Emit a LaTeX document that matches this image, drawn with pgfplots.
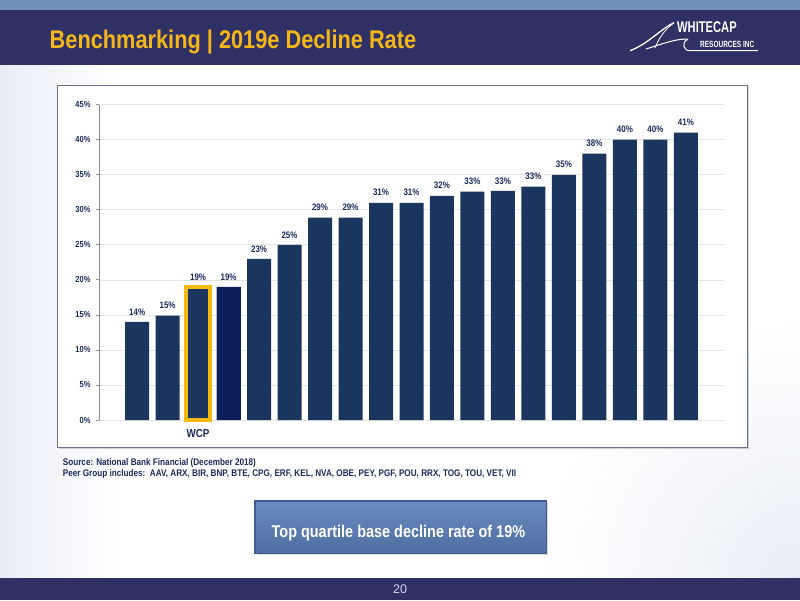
\documentclass[border=0pt]{standalone}
\usepackage{fontspec}
\setmainfont{Liberation Sans}
\newfontfamily\narrow{Liberation Sans}[FakeStretch=0.85]
\newfontfamily\logofont{Liberation Sans}[FakeStretch=0.72]
\usepackage{pgfplots}
\usepackage{pgfplotstable}
\pgfplotsset{compat=1.18}
\usetikzlibrary{shadows}
\definecolor{band}{HTML}{2F3063}
\definecolor{stripe}{HTML}{7191BA}
\definecolor{titlegold}{HTML}{F4B71A}
\definecolor{barblue}{HTML}{1B365E}
\definecolor{bardark}{HTML}{0C1F5C}
\definecolor{wcpgold}{HTML}{F5B90F}
\definecolor{navy}{HTML}{1C2B5C}
\definecolor{gridgray}{HTML}{E4E4E4}
\definecolor{axisgray}{HTML}{8C8C8C}
\definecolor{frame}{HTML}{6C6F91}
\definecolor{boxtop}{HTML}{6A8BBF}
\definecolor{boxbot}{HTML}{4E6EA2}
\definecolor{boxedge}{HTML}{3F5C8E}
\definecolor{footertext}{HTML}{D4D8F2}
\definecolor{bgtint}{HTML}{E8EDF5}

\pgfplotstableread{
x y
0 14.0
1 14.9
2 19.0
3 19.0
4 23.0
5 25.0
6 28.9
7 28.9
8 31.0
9 31.0
10 32.0
11 32.6
12 32.7
13 33.3
14 35.0
15 38.0
16 40.0
17 40.0
18 41.0
}\decline

\begin{document}
\begin{tikzpicture}[x=1pt,y=1pt]
\useasboundingbox (0,0) rectangle (800,600);
\fill[white] (0,0) rectangle (800,600);
% faint background tints
\shade[left color=bgtint, right color=white] (0,22) rectangle (120,534.5);
\begin{scope}
  \clip (0,22) rectangle (800,534.5);
  \shade[inner color=bgtint, outer color=white] (800,22) circle (260);
\end{scope}
% header
\fill[stripe] (0,590) rectangle (800,600);
\fill[band] (0,534.5) rectangle (800,590);
\node[anchor=base west, inner sep=0pt, text=titlegold,
      font=\narrow\bfseries\fontsize{25.6}{28}\selectfont]
  at (49.5,551.7) {Benchmarking | 2019e Decline Rate};
% logo
\node[anchor=base west, inner sep=0pt, text=white,
      font=\logofont\bfseries\fontsize{15.5}{17}\selectfont]
  at (677,567) {WHITECAP};
\node[anchor=base west, inner sep=0pt, text=white,
      font=\logofont\bfseries\fontsize{9}{10}\selectfont]
  at (700,552.7) {RESOURCES INC};
\draw[white, line width=1.3pt] (630,549.3) .. controls (648,556) and (662,572) .. (674,577.3);
\draw[white, line width=0.8pt] (674,577.3) .. controls (664,570) and (658,560) .. (655,552);
\draw[white, line width=1pt] (646,551) .. controls (662,556) and (678,562) .. (688,560.7);
\draw[white, line width=1pt] (688,560.7) .. controls (681,558) and (683,549.3) .. (690,549.3) -- (758,549.3);
% chart frame
\path[fill=white, draw=frame, line width=1pt,
      drop shadow={shadow xshift=1.5pt, shadow yshift=-1.5pt, opacity=0.35}]
  (57,153) rectangle (747,514.5);
\begin{axis}[
  at={(99pt,180pt)}, anchor=south west,
  scale only axis, width=625pt, height=315.3pt,
  xmin=-1.25, xmax=19.25, ymin=0, ymax=45,
  axis x line*=bottom, axis y line*=left,
  x axis line style={draw=none},
  y axis line style={draw=axisgray, line width=1pt, -},
  xtick={2}, xticklabels={WCP},
  x tick style={draw=none},
  xticklabel style={font=\narrow\bfseries\fontsize{11.5}{13}\selectfont, text=navy, inner sep=0pt, yshift=-6pt},
  ytick={0,5,...,45},
  /pgf/number format/assume math mode=true,
  yticklabel={\pgfmathprintnumber{\tick}\%},
  yticklabel style={font=\narrow\bfseries\fontsize{8.8}{10}\selectfont, text=navy, xshift=-2pt},
  tick align=outside, major tick length=3pt,
  y tick style={draw=axisgray, line width=0.8pt},
  ymajorgrids, grid style={draw=gridgray, line width=0.7pt},
  clip=false,
]
\addplot[ybar, bar width=24pt, fill=barblue, draw=none,
  nodes near coords={\pgfmathprintnumber[fixed,precision=0]{\pgfplotspointmeta}\%},
  nodes near coords style={font=\narrow\bfseries\fontsize{9.4}{11}\selectfont, text=navy, anchor=south, inner sep=0pt, yshift=6.5pt}]
  table[x=x, y=y] {\decline};
\addplot[ybar, bar width=24pt, fill=bardark, draw=none] coordinates {(3,19.0)};
\addplot[ybar, bar width=24pt, fill=barblue, draw=wcpgold, line width=3.5pt] coordinates {(2,19.0)};
\end{axis}
% source text
\node[anchor=base west, inner sep=0pt, text=navy,
      font=\narrow\bfseries\fontsize{9.6}{11}\selectfont]
  at (62.7,135) {Source: National Bank Financial (December 2018)};
\node[anchor=base west, inner sep=0pt, text=navy,
      font=\narrow\bfseries\fontsize{9.6}{11}\selectfont]
  at (62.7,123.3) {Peer Group includes:\ \ AAV, ARX, BIR, BNP, BTE, CPG, ERF, KEL, NVA, OBE, PEY, PGF, POU, RRX, TOG, TOU, VET, VII};
% highlight box
\path[top color=boxtop, bottom color=boxbot, draw=boxedge, line width=1.5pt,
      drop shadow={shadow xshift=1.5pt, shadow yshift=-1.5pt, opacity=0.3}]
  (255,46.7) rectangle (546.7,99);
\node[anchor=base, inner sep=0pt, text=white,
      font=\narrow\bfseries\fontsize{17}{20}\selectfont]
  at (398.4,62.3) {Top quartile base decline rate of 19\%};
% footer
\fill[band] (0,0) rectangle (800,22.3);
\node[anchor=base, inner sep=0pt, text=footertext, font=\fontsize{12.5}{14}\selectfont]
  at (400,6.7) {20};
\end{tikzpicture}
\end{document}
